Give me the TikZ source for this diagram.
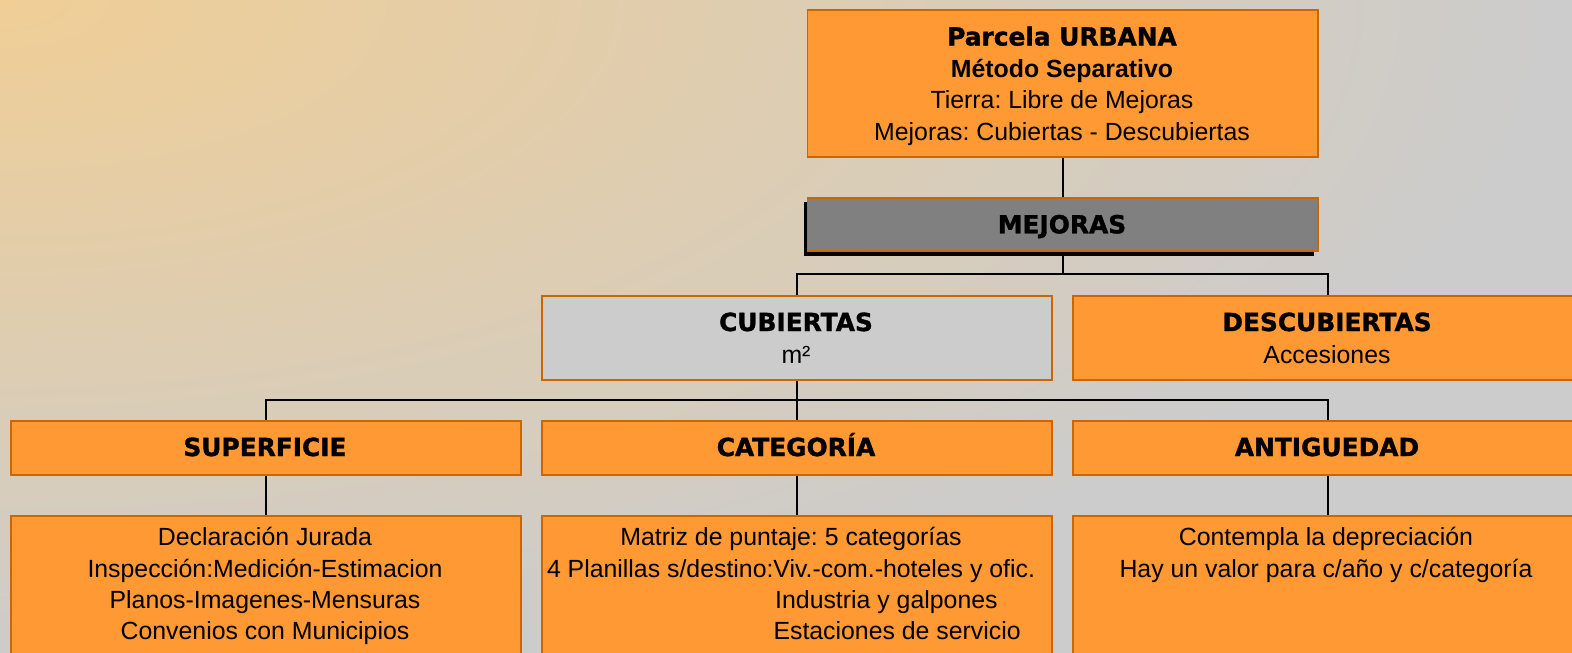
\documentclass[tikz,border=0pt]{standalone}
\usepackage{fontspec}
\setmainfont{Liberation Sans}
\newfontfamily\heavyfont{DejaVu Sans}[BoldFeatures={FakeBold=1.3}]
\usetikzlibrary{shadows}
\definecolor{orfill}{HTML}{FF9933}
\definecolor{orline}{HTML}{CC6600}
\definecolor{bgwarm}{RGB}{240,206,150}
\definecolor{bggray}{RGB}{204,204,204}
\definecolor{mejgray}{HTML}{808080}
\definecolor{cubgray}{HTML}{CCCCCC}
\pgfdeclarelayer{bgshade}
\pgfdeclarelayer{lines}
\pgfsetlayers{bgshade,lines,main}
\frenchspacing
\tikzset{
  box/.style={draw=orline, line width=1.8pt, fill=orfill, rectangle, inner sep=0pt, anchor=north west},
  conn/.style={draw=black, line width=2pt},
  txt/.style={anchor=base, inner sep=0pt, font=\fontsize{24.85}{31.5}\selectfont},
  hvy/.style={anchor=base, inner sep=0pt, font=\heavyfont\bfseries\fontsize{24.85}{31.5}\selectfont},
  bld/.style={anchor=base, inner sep=0pt, font=\bfseries\fontsize{24.85}{31.5}\selectfont},
  txtw/.style={anchor=base west, inner sep=0pt, font=\fontsize{24.85}{31.5}\selectfont},
}
\begin{document}
\begin{tikzpicture}[x=1pt,y=-1pt]
\useasboundingbox (0,0) rectangle (1572,653);
\begin{pgfonlayer}{bgshade}
\begin{scope}
\clip (0,0) rectangle (1572,653);
\fill[bggray] (0,0) rectangle (1572,653);
\shade[inner color=bgwarm, outer color=bggray] (0,0) ellipse [x radius=1550pt, y radius=680pt];
\end{scope}
\end{pgfonlayer}

% boxes
\node[box, minimum width=510.5pt, minimum height=147pt] (top) at (806.5,8.7) {};
\node[box, fill=mejgray, minimum width=510.5pt, minimum height=53.6pt,
      drop shadow={shadow xshift=-3.5pt, shadow yshift=-4.5pt, fill=black, opacity=1}] (mej) at (806.5,196.7) {};
\node[box, fill=cubgray, minimum width=510.3pt, minimum height=84.3pt] (cub) at (541,295) {};
\node[box, minimum width=510.3pt, minimum height=84.3pt] (desc) at (1072,295) {};
\node[box, minimum width=510.3pt, minimum height=53.7pt] (sup) at (10,420.3) {};
\node[box, minimum width=510.3pt, minimum height=53.7pt] (cat) at (541,420.3) {};
\node[box, minimum width=510.3pt, minimum height=53.7pt] (ant) at (1072,420.3) {};
\node[box, minimum width=510.3pt, minimum height=170pt] (supb) at (10,514.7) {};
\node[box, minimum width=510.3pt, minimum height=170pt] (catb) at (541,514.7) {};
\node[box, minimum width=510.3pt, minimum height=170pt] (antb) at (1072,514.7) {};

% connectors
\coordinate (bus1) at (0,274.3);
\coordinate (bus2) at (0,399.7);
\begin{pgfonlayer}{lines}
\draw[conn] (top.south) -- (mej.north);
\draw[conn] (mej.south) -- (mej.south |- bus1);
\draw[conn] (cub.north) -- (cub.north |- bus1) -- (desc.north |- bus1) -- (desc.north);
\draw[conn] (cub.south) -- (cat.north);
\draw[conn] (sup.north) -- (sup.north |- bus2) -- (ant.north |- bus2) -- (ant.north);
\draw[conn] (sup.south) -- (supb.north);
\draw[conn] (cat.south) -- (catb.north);
\draw[conn] (ant.south) -- (antb.north);
\end{pgfonlayer}

% texts
\node[hvy] (t1) at (1062,45.5) {Parcela URBANA};
\node[bld] (t2) at (1062,77) {Método Separativo};
\node[txt] (t3) at (1062,108.5) {Tierra: Libre de Mejoras};
\node[txt] (t4) at (1062,140) {Mejoras: Cubiertas - Descubiertas};
\node[hvy] (tm) at (1062,233.3) {MEJORAS};
\node[hvy] (tc1) at (796,331) {CUBIERTAS};
\node[txt] (tc2) at (796,363.3) {m²};
\node[hvy] (td1) at (1327,331) {DESCUBIERTAS};
\node[txt] (td2) at (1327,363.3) {Accesiones};
\node[hvy] (ts) at (265,456) {SUPERFICIE};
\node[hvy] (tk) at (796,456) {CATEGORÍA};
\node[hvy] (ta) at (1327,456) {ANTIGUEDAD};

\node[txt] (s1) at (265,545.7) {Declaración Jurada};
\node[txt] (s2) at (265,577.1) {Inspección:Medición-Estimacion};
\node[txt] (s3) at (265,608.5) {Planos-Imagenes-Mensuras};
\node[txt] (s4) at (265,639.9) {Convenios con Municipios};

\node[txt] (k1) at (791,545.7) {Matriz de puntaje: 5 categorías};
\node[txt] (k2) at (791,577.1) {4 Planillas s/destino:Viv.-com.-hoteles y ofic.};
\node[txtw] (k3) at (775,608.5) {Industria y galpones};
\node[txtw] (k4) at (773.3,639.9) {Estaciones de servicio};

\node[txt] (a1) at (1326,545.7) {Contempla la depreciación};
\node[txt] (a2) at (1326,577.1) {Hay un valor para c/año y c/categoría};
\end{tikzpicture}
\end{document}
